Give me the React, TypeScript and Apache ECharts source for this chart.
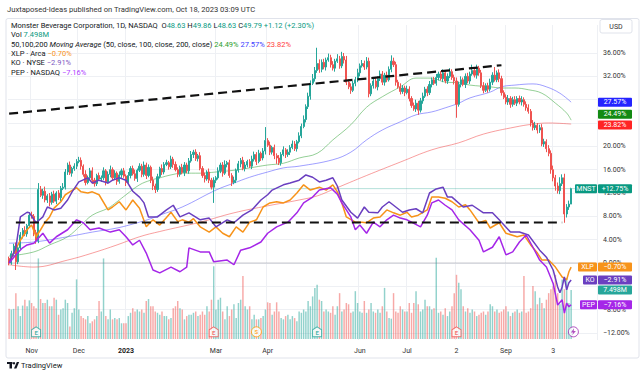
import React, { useEffect, useRef } from "react";
import * as echarts from "echarts";

const FONT = "Roboto, 'Noto Sans', sans-serif";
const N_CATS = 262;
const CATEGORIES = Array.from({ length: N_CATS }, (_, i) => String(i));

const TIME_LABELS: Record<number, string> = {
  10: "Nov", 31: "Dec", 52: "2023", 92: "Mar", 115: "Apr", 156: "Jun",
  177: "Jul", 199: "2", 221: "Sep", 242: "3",
};

// price-scale ticks hidden behind the value badges in the reference
const HIDDEN_TICKS = [28, 24, -4];

// MNST daily closes, % change vs first bar
const FIRST_OPEN = 0.8;
const CLOSES = [
  0.0, 1.6, 2.9, 0.2, 2.6, 4.8, 5.6, 5.0, 6.4, 8.2,
  8.0, 5.2, 3.8, 12.6, 11.6, 12.3, 10.8, 11.5, 10.4, 11.8,
  10.6, 12.0, 11.2, 12.8, 13.0, 15.6, 16.8, 15.4, 16.2, 16.6,
  17.4, 17.6, 16.6, 15.2, 13.8, 14.6, 15.8, 14.2, 13.6, 15.0,
  14.4, 14.6, 15.8, 13.9, 15.2, 16.0, 14.6, 15.4, 14.0, 15.1,
  15.8, 14.9, 13.8, 15.0, 16.2, 15.3, 14.5, 15.9, 16.6, 15.2,
  16.8, 15.0, 16.4, 14.2, 13.2, 12.6, 14.8, 16.2, 15.6, 16.9,
  17.2, 16.5, 17.8, 16.9, 16.0, 15.2, 16.4, 15.5, 16.8, 15.8,
  17.5, 18.6, 19.0, 17.9, 18.4, 16.2, 15.0, 14.4, 15.6, 14.2,
  13.0, 14.2, 14.6, 15.8, 16.8, 15.4, 16.9, 17.2, 15.0, 13.8,
  14.2, 15.9, 17.0, 17.6, 16.2, 16.8, 17.4, 16.6, 17.8, 18.6,
  17.4, 18.8, 18.0, 19.2, 21.0, 20.2, 19.0, 19.8, 18.4, 18.0,
  17.2, 18.6, 19.4, 18.6, 19.0, 19.8, 20.4, 19.6, 20.8, 21.8,
  23.4, 24.6, 26.8, 28.6, 30.8, 31.6, 33.0, 34.2, 33.2, 34.4,
  33.6, 34.8, 35.2, 34.0, 33.4, 34.6, 35.0, 33.8, 35.4, 34.8,
  31.0, 30.2, 29.6, 30.8, 31.4, 32.6, 33.8, 34.2, 33.6, 34.6,
  29.0, 30.4, 31.2, 30.2, 31.6, 32.4, 31.0, 32.2, 31.4, 33.2,
  34.6, 34.0, 31.0, 30.2, 29.4, 30.0, 29.2, 29.8, 28.2, 27.0,
  26.4, 27.4, 26.2, 27.8, 28.6, 29.8, 29.2, 30.6, 31.4, 30.8,
  31.8, 32.4, 31.6, 32.6, 31.2, 32.0, 32.8, 31.8, 31.2, 27.2,
  30.6, 31.4, 30.6, 32.0, 31.2, 32.4, 33.0, 32.2, 33.4, 32.6,
  30.4, 29.6, 30.4, 29.8, 31.0, 32.2, 31.4, 32.6, 31.6, 29.2,
  28.4, 27.6, 28.2, 27.2, 28.0, 27.4, 28.2, 27.6, 28.0, 27.2,
  26.6, 26.0, 24.0, 23.2, 23.6, 22.8, 23.2, 20.4, 20.8, 19.6,
  18.8, 16.0, 14.6, 13.2, 12.4, 13.6, 14.6, 8.4, 9.6, 10.1, 12.75,
];

const WICK_UP = [
  0.3, 0.5, 0.4, 0.6, 0.3, 0.5, 0.4, 0.7, 0.3, 0.5,
  0.6, 0.4, 0.5, 1.1, 0.6, 0.4, 0.8, 0.3, 0.5, 0.4,
  0.6, 0.3, 0.5, 0.4, 0.7, 0.5, 0.4, 0.6, 0.3, 0.5,
  0.4, 0.6, 0.5, 0.3, 0.7, 0.4, 0.5, 0.6, 0.4, 0.3,
  0.5, 0.4, 0.6, 0.3, 0.5, 0.7, 0.4, 0.5, 0.3, 0.6,
  0.4, 0.5, 0.3, 0.6, 0.4, 0.5, 0.7, 0.3, 0.5, 0.4,
  0.6, 0.4, 0.5, 0.3, 0.6, 0.4, 0.5, 0.3, 0.7, 0.4,
  0.5, 0.3, 0.6, 0.4, 0.5, 0.4, 0.3, 0.6, 0.5, 0.4,
  0.5, 0.6, 0.4, 0.5, 0.3, 0.6, 0.4, 0.5, 0.3, 0.6,
  0.4, 0.5, 0.3, 0.6, 0.4, 0.5, 0.7, 0.3, 0.5, 0.4,
  0.6, 0.3, 0.5, 0.4, 0.6, 0.5, 0.3, 0.4, 0.6, 0.5,
  0.4, 0.6, 0.3, 0.5, 2.3, 0.4, 0.6, 0.3, 0.5, 0.4,
  0.5, 0.4, 0.6, 0.3, 0.5, 0.4, 0.6, 0.5, 0.3, 0.6,
  0.5, 0.7, 0.4, 0.6, 0.5, 0.8, 0.6, 2.7, 0.7, 0.5,
  0.6, 0.4, 0.7, 0.5, 0.6, 0.4, 0.8, 0.5, 0.8, 0.6,
  0.7, 0.5, 0.6, 0.4, 0.5, 0.7, 0.4, 0.6, 0.5, 0.7,
  0.6, 0.4, 0.5, 0.7, 0.4, 0.6, 0.5, 0.4, 0.6, 0.5,
  1.0, 0.6, 0.5, 0.4, 0.6, 0.5, 0.4, 0.6, 0.5, 0.4,
  0.5, 0.6, 0.4, 0.5, 0.6, 0.4, 0.5, 0.6, 0.4, 0.5,
  0.6, 0.4, 0.5, 0.6, 0.4, 0.5, 0.6, 0.4, 0.5, 0.6,
  0.5, 0.6, 0.4, 0.5, 0.6, 0.4, 1.0, 0.5, 0.6, 0.4,
  0.5, 0.6, 0.4, 0.5, 0.6, 0.5, 1.4, 0.4, 0.6, 0.5,
  0.4, 0.5, 0.6, 0.4, 0.5, 0.6, 0.4, 0.5, 0.6, 0.4,
  0.5, 0.6, 0.4, 0.5, 0.6, 0.4, 0.5, 0.6, 0.5, 0.4,
  0.6, 0.5, 0.7, 0.5, 0.6, 1.1, 0.6, 0.7, 0.5, 0.6, 0.15,
];

const WICK_DN = [
  0.4, 0.3, 0.5, 1.4, 0.4, 0.3, 0.6, 0.4, 0.5, 0.3,
  0.4, 0.6, 0.5, 0.4, 0.3, 0.6, 0.4, 0.5, 0.7, 0.4,
  0.3, 0.5, 0.4, 0.6, 0.3, 0.4, 0.5, 0.3, 0.6, 0.4,
  0.5, 0.3, 0.6, 0.4, 0.5, 0.3, 0.4, 0.6, 0.5, 0.4,
  0.3, 0.5, 0.4, 0.6, 0.3, 0.5, 0.4, 0.3, 0.6, 0.4,
  0.5, 0.3, 0.6, 0.4, 0.5, 0.3, 0.4, 0.6, 0.3, 0.5,
  0.4, 0.6, 0.3, 0.5, 0.7, 0.6, 0.4, 0.3, 0.5, 0.4,
  0.3, 0.5, 0.4, 0.6, 0.3, 0.5, 0.4, 0.3, 0.6, 0.4,
  0.5, 0.3, 0.6, 0.4, 0.5, 0.3, 0.4, 0.6, 0.3, 0.5,
  0.4, 2.7, 0.5, 0.3, 0.4, 0.6, 0.3, 0.5, 0.4, 0.6,
  0.3, 0.5, 0.4, 0.6, 0.3, 0.5, 0.4, 0.3, 0.5, 0.4,
  0.6, 0.3, 0.5, 0.4, 0.6, 0.3, 0.5, 0.4, 0.6, 1.0,
  0.4, 0.5, 0.3, 0.6, 0.4, 0.5, 0.3, 0.4, 0.5, 0.3,
  0.4, 0.3, 0.5, 0.4, 0.6, 0.3, 0.5, 0.4, 0.6, 0.5,
  0.4, 0.6, 0.3, 0.5, 0.4, 0.6, 0.3, 0.5, 0.4, 0.6,
  0.5, 0.4, 0.6, 0.3, 0.5, 0.4, 0.6, 0.3, 0.5, 0.4,
  0.6, 0.4, 0.5, 0.3, 0.6, 0.4, 0.5, 0.6, 0.4, 0.3,
  0.5, 0.4, 0.6, 0.3, 0.5, 0.4, 0.6, 0.3, 0.5, 0.4,
  0.3, 0.5, 0.8, 0.4, 0.5, 0.3, 0.6, 0.4, 0.5, 0.3,
  0.4, 0.5, 0.3, 0.6, 0.4, 0.5, 0.3, 0.4, 0.6, 2.3,
  0.4, 0.5, 0.3, 0.6, 0.4, 0.5, 0.3, 0.4, 0.6, 0.5,
  0.4, 0.5, 0.3, 0.6, 0.4, 0.5, 0.3, 0.4, 0.6, 0.5,
  0.3, 0.4, 0.5, 0.6, 0.4, 0.3, 0.5, 0.4, 0.6, 0.4,
  0.5, 0.4, 0.6, 0.5, 0.4, 0.6, 0.5, 0.4, 0.5, 0.6,
  0.5, 0.7, 0.6, 0.8, 0.5, 0.6, 0.4, 1.5, 0.6, 0.5, 0.0,
];

// volume, millions of shares
const VOLUMES = [
  4.6, 4.5, 4.6, 7.0, 5.0, 3.5, 5.1, 6.0, 5.0, 5.9,
  5.5, 5.0, 4.7, 12.3, 6.1, 5.5, 5.5, 6.0, 5.0, 5.0,
  6.3, 6.0, 3.7, 4.5, 4.7, 6.0, 5.5, 1.9, 4.0, 4.7,
  9.1, 4.5, 3.5, 3.2, 3.0, 3.5, 2.4, 2.7, 3.0, 3.5,
  5.8, 4.2, 12.3, 3.5, 3.0, 4.5, 3.0, 3.2, 3.0, 3.2,
  2.4, 2.4, 2.4, 3.5, 4.0, 4.7, 4.2, 4.5, 4.2, 4.5,
  4.0, 5.8, 6.1, 5.0, 5.0, 4.2, 4.0, 3.7, 4.2, 3.5,
  3.5, 3.0, 3.2, 4.7, 5.0, 5.8, 4.7, 4.5, 3.0, 3.5,
  3.7, 3.7, 4.0, 4.2, 3.5, 3.7, 4.2, 3.7, 5.0, 4.2,
  6.0, 11.1, 4.5, 6.0, 6.3, 4.2, 3.0, 5.0, 3.5, 4.5,
  5.3, 3.2, 5.5, 6.0, 9.6, 5.0, 4.5, 5.0, 3.0, 3.7,
  3.0, 3.0, 3.2, 3.5, 4.5, 5.6, 5.5, 3.7, 4.2, 5.6,
  4.2, 3.2, 3.0, 3.5, 3.7, 3.0, 3.5, 3.2, 2.7, 4.2,
  4.0, 4.5, 4.2, 5.8, 5.0, 6.5, 7.8, 8.3, 6.0, 5.8,
  4.2, 4.5, 4.2, 4.0, 5.0, 3.7, 5.0, 7.0, 4.2, 4.5,
  5.5, 5.3, 4.0, 4.2, 7.3, 5.5, 4.2, 4.0, 5.8, 4.0,
  4.5, 5.5, 4.2, 4.0, 4.5, 4.0, 5.0, 7.8, 4.2, 3.2,
  3.1, 7.0, 4.2, 4.0, 5.0, 4.5, 4.2, 4.2, 5.5, 4.0,
  5.5, 7.3, 5.3, 4.2, 4.5, 6.0, 5.0, 5.0, 4.5, 4.7,
  12.4, 4.0, 4.2, 3.7, 4.7, 3.5, 4.2, 5.0, 7.0, 9.8,
  8.6, 7.6, 5.0, 4.2, 4.7, 4.0, 4.5, 4.2, 3.5, 3.7,
  4.0, 4.2, 3.7, 4.2, 5.3, 5.0, 4.2, 4.5, 4.0, 4.2,
  4.5, 5.0, 4.2, 3.5, 4.0, 4.2, 4.5, 4.0, 4.2, 9.6,
  4.0, 4.2, 4.7, 8.1, 7.3, 5.3, 6.3, 5.5, 4.7, 6.0,
  7.0, 7.6, 8.1, 9.8, 7.0, 5.3, 9.1, 7.6, 9.3, 5.5, 7.498,
];

// moving averages [barIndex, %]
const MA50 = [
  [0, 1.2], [11, 1.9], [18, 3.1], [26, 4.5], [32, 6.5], [37, 8.2], [44, 9.4], [48, 10.5],
  [52, 11.7], [58, 13.4], [63, 14.2], [67, 14.6], [72, 15.1], [77, 15.4], [85, 15.4],
  [92, 15.6], [100, 15.9], [107, 16.3], [115, 16.8], [122, 17.1], [129, 18.0], [137, 18.8],
  [144, 21.1], [152, 23.7], [159, 26.7], [166, 28.5], [174, 30.2], [181, 31.7], [188, 31.7],
  [194, 31.0], [200, 30.9], [205, 30.5], [214, 30.2], [219, 30.0], [225, 30.0], [231, 29.7],
  [237, 29.1], [243, 27.4], [248, 25.7], [250, 24.49],
];
const MA100 = [
  [0, 3.4], [11, 3.6], [26, 4.5], [37, 5.3], [48, 6.0], [58, 7.0], [63, 7.6], [67, 8.2],
  [77, 9.6], [92, 12.5], [100, 13.7], [107, 14.7], [115, 15.6], [122, 16.3], [129, 16.6],
  [144, 17.7], [152, 19.0], [159, 21.1], [166, 22.8], [174, 24.2], [181, 25.4], [188, 25.9],
  [194, 26.6], [200, 27.4], [205, 28.3], [214, 29.3], [219, 30.2], [225, 30.5], [233, 30.7],
  [239, 30.2], [245, 29.1], [250, 27.57],
];
const MA200 = [
  [0, -0.3], [11, -0.7], [26, 0.5], [37, 1.7], [48, 3.1], [58, 4.5], [67, 5.4], [85, 7.0],
  [100, 8.6], [115, 9.8], [129, 10.8], [137, 11.5], [144, 12.6], [159, 15.0], [174, 17.3],
  [188, 19.4], [200, 20.6], [211, 22.1], [225, 23.3], [233, 23.8], [240, 24.0], [250, 23.82],
];

// comparison symbols [barIndex, %]
const XLP = [
  [0, 0], [2, 1.7], [5, 3.9], [8, 5.7], [10, 6.5], [12, 4.5], [14, 5.7], [16, 7.0], [18, 7.9],
  [20, 9.4], [23, 10.5], [25, 11.7], [27, 12.2], [30, 12.9], [32, 12.2], [35, 12.0], [37, 12.2],
  [40, 11.7], [44, 9.1], [46, 9.6], [49, 10.5], [52, 9.1], [55, 10.8], [58, 9.4], [61, 6.2],
  [64, 7.4], [67, 6.5], [70, 7.8], [72, 8.7], [75, 7.1], [77, 7.4], [80, 7.0], [82, 7.6], [85, 6.2],
  [89, 5.3], [92, 6.2], [95, 5.1], [98, 4.5], [101, 6.2], [104, 5.3], [107, 7.0], [110, 7.4],
  [113, 9.6], [116, 10.3], [119, 10.5], [122, 10.3], [125, 10.8], [128, 12.0], [131, 13.4],
  [134, 12.5], [138, 13.0], [141, 12.5], [144, 13.4], [146, 12.2], [148, 10.3], [150, 7.9],
  [154, 7.0], [157, 7.0], [159, 6.9], [162, 7.7], [165, 7.9], [168, 9.1], [171, 8.6], [174, 8.2],
  [177, 8.7], [179, 7.9], [182, 8.2], [186, 9.1], [188, 11.3], [191, 11.3], [194, 11.1],
  [197, 10.5], [200, 9.6], [203, 10.0], [205, 9.1], [209, 6.9], [212, 7.3], [214, 6.0], [218, 6.9],
  [221, 5.1], [226, 4.5], [229, 4.8], [232, 3.1], [235, 1.7], [237, 0.5], [240, 0.5], [243, -0.7],
  [246, -2.4], [248, -2.9], [249, -1.5], [250, -0.7],
];
const KO = [
  [0, 0], [3, 2.6], [5, 7.9], [8, 8.7], [9, 8.6], [12, 6.9], [15, 7.9], [17, 9.6], [20, 9.1],
  [23, 9.4], [26, 10.8], [28, 12.2], [31, 13.9], [35, 14.6], [37, 13.7], [40, 14.2], [44, 13.7],
  [46, 14.2], [49, 14.6], [52, 14.2], [55, 12.3], [58, 11.3], [60, 10.3], [62, 7.9], [66, 7.9],
  [70, 9.1], [73, 9.9], [76, 7.9], [80, 8.6], [85, 7.4], [89, 7.7], [92, 6.2], [97, 7.4],
  [100, 6.9], [104, 8.2], [108, 9.1], [112, 10.8], [115, 11.7], [117, 12.5], [122, 13.4],
  [125, 13.7], [129, 14.2], [132, 15.1], [135, 14.7], [138, 13.9], [141, 14.2], [144, 14.6],
  [146, 13.2], [148, 10.8], [152, 8.7], [155, 7.7], [158, 9.6], [160, 8.7], [164, 8.6],
  [166, 9.6], [169, 10.5], [172, 9.6], [175, 8.7], [178, 9.1], [181, 9.3], [184, 8.6],
  [187, 12.0], [190, 12.7], [193, 13.0], [195, 11.3], [197, 11.3], [202, 9.6], [206, 9.9],
  [211, 8.6], [215, 8.6], [218, 7.4], [223, 5.3], [227, 5.3], [231, 4.8], [236, 2.2], [239, 1.0],
  [242, -1.2], [244, -4.1], [245, -5.1], [246, -4.1], [247, -2.4], [248, -4.6], [249, -3.4],
  [250, -2.91],
];
const PEP = [
  [0, 0], [3, 1.4], [6, 2.6], [8, 3.1], [11, 3.4], [15, 5.1], [18, 3.4], [21, 4.5], [26, 5.7],
  [30, 7.4], [33, 6.9], [36, 5.7], [40, 6.0], [45, 5.3], [49, 5.7], [52, 4.5], [55, 3.1],
  [58, 3.9], [61, 1.7], [64, -1.2], [67, -1.7], [72, -0.7], [76, -1.5], [79, -0.7], [80, 2.6],
  [85, 1.9], [89, 1.9], [91, 0.2], [97, 0.5], [100, -0.3], [103, 2.2], [107, 2.6], [112, 3.6],
  [115, 5.1], [119, 6.2], [124, 7.0], [128, 8.6], [131, 10.3], [135, 11.3], [138, 12.5],
  [143, 12.9], [146, 11.8], [148, 10.3], [152, 7.9], [154, 5.7], [156, 6.5], [159, 5.1],
  [162, 7.0], [165, 6.2], [168, 7.4], [171, 8.2], [174, 7.7], [177, 7.4], [179, 7.0], [183, 6.2],
  [186, 8.2], [188, 10.3], [191, 10.8], [194, 9.9], [197, 9.1], [200, 7.4], [205, 5.7],
  [209, 3.9], [211, 1.9], [215, 2.7], [218, 4.5], [221, 1.4], [224, 1.9], [227, 3.6], [230, 4.8],
  [233, 2.7], [236, 0.5], [239, -0.7], [242, -3.5], [244, -7.2], [246, -6.3], [247, -8.6],
  [248, -6.9], [249, -7.5], [250, -7.16],
];

const TREND_UPPER = [[0, 25.6], [219, 33.9]];
const TREND_LOWER = [[3, 6.94], [246, 6.94]];

const LAST = { mnst: 12.75, ma50: 24.49, ma100: 27.57, ma200: 23.82, xlp: -0.7, ko: -2.91, pep: -7.16, vol: 7.498 };

// events near the time axis: [barIndex, kind]
const EVENTS: [number, string][] = [
  [12, "E+"], [91, "E-"], [110, "S"], [137, "E+"], [199, "E-"], [251, "L"],
];

const UP = "#26a69a";
const DOWN = "#ef5350";

function fmtPct(v: number) {
  return (v < 0 ? "\u2212" : "+") + Math.abs(v).toFixed(2) + "%";
}

function buildOption() {
  const candles = CLOSES.map((c, i) => {
    const o = i === 0 ? FIRST_OPEN : CLOSES[i - 1];
    return [o, c, Math.min(o, c) - WICK_DN[i], Math.max(o, c) + WICK_UP[i]];
  });
  const vols = VOLUMES.map((v, i) => {
    const o = i === 0 ? FIRST_OPEN : CLOSES[i - 1];
    const up = CLOSES[i] >= o;
    return { value: v, itemStyle: { color: up ? "rgba(38,166,154,0.5)" : "rgba(239,83,80,0.5)" } };
  });
  const isLabel = (i: number) => TIME_LABELS[i] !== undefined;

  const lineS = (data: number[][], color: string, width: number, smooth: any, z = 3) => ({
    type: "line", xAxisIndex: 0, yAxisIndex: 0, data, symbol: "none", smooth, silent: true, z,
    lineStyle: { color, width }, emphasis: { disabled: true },
  });

  const evData = EVENTS.map(([i, k]) => {
    const color = k === "E+" ? UP : k === "E-" ? DOWN : k === "S" ? "#ff9800" : "#9c27b0";
    const isE = k === "E+" || k === "E-";
    return {
      value: [i, -11.8],
      symbol: isE ? "path://M5,0 L10,3.5 L10,12 L0,12 L0,3.5 Z" : "circle",
      symbolSize: isE ? [9, 10] : 10,
      itemStyle: { color: "#fff", borderColor: color, borderWidth: 1 },
      label: {
        show: k !== "L", formatter: isE ? "E" : "S", color, fontSize: 6, fontWeight: "bold",
        position: "inside", offset: [0, isE ? 1 : 0], fontFamily: FONT,
      },
    };
  });
  const boltData = EVENTS.filter(([, k]) => k === "L").map(([i]) => ({ value: [i, -11.8] }));

  return {
    animation: false,
    textStyle: { fontFamily: FONT },
    grid: [
      { left: 8, right: 43, top: 25, height: 315 },
      { left: 8, right: 43, top: 53, height: 280 },
      { left: 8, right: 43, top: 208, height: 131 },
    ],
    xAxis: [
      {
        type: "category", gridIndex: 0, data: CATEGORIES, boundaryGap: true,
        axisLine: { show: false }, axisTick: { show: false },
        axisLabel: {
          interval: (i: number) => isLabel(i),
          formatter: (_v: string, i: number) => (i === 52 ? "{b|2023}" : TIME_LABELS[i] || ""),
          fontSize: 7, color: "#333", margin: 7, fontFamily: FONT,
          rich: { b: { fontWeight: "bold", fontSize: 7, color: "#222", fontFamily: FONT } },
        },
        splitLine: { show: true, interval: (i: number) => isLabel(i), lineStyle: { color: "#eef0f4", width: 1 } },
      },
      { type: "value", gridIndex: 1, show: false, min: 0, max: 1 },
      { type: "category", gridIndex: 2, data: CATEGORIES, show: false, boundaryGap: true },
    ],
    yAxis: [
      { type: "value", gridIndex: 0, min: -13.2, max: 40.8, show: false },
      {
        type: "value", gridIndex: 1, position: "right", min: -12, max: 36, interval: 4,
        axisLine: { show: false }, axisTick: { show: false },
        axisLabel: {
          formatter: (v: number) =>
            HIDDEN_TICKS.indexOf(v) >= 0 ? "" : (v < 0 ? "\u2212" : "") + Math.abs(v).toFixed(2) + "%",
          fontSize: 7, color: "#333", margin: 6, fontFamily: FONT,
        },
        splitLine: { lineStyle: { color: "#eef0f4", width: 1 } },
      },
      { type: "value", gridIndex: 2, min: 0, max: 20, show: false },
    ],
    series: [
      {
        type: "bar", xAxisIndex: 2, yAxisIndex: 2, data: vols, barWidth: "65%", silent: true, z: 1,
      },
      lineS([[0, 0], [261, 0]], "rgba(120,123,134,0.4)", 1, false, 2),
      lineS([[0, LAST.mnst], [261, LAST.mnst]], "rgba(8,153,129,0.3)", 1, false, 2),
      lineS(MA200, "rgba(242,80,80,0.55)", 1, 0.4),
      lineS(MA100, "rgba(80,80,255,0.55)", 1, 0.4),
      lineS(MA50, "rgba(76,175,80,0.6)", 1, 0.4),
      {
        type: "candlestick", xAxisIndex: 0, yAxisIndex: 0, data: candles, barWidth: "72%", silent: true, z: 4,
        itemStyle: { color: UP, color0: DOWN, borderColor: UP, borderColor0: DOWN, borderWidth: 1 },
      },
      lineS(XLP, "#f7931a", 1.5, false, 5),
      lineS(KO, "#6a3fc0", 1.5, false, 5),
      lineS(PEP, "#a526e8", 1.5, false, 5),
      {
        type: "line", xAxisIndex: 0, yAxisIndex: 0, data: TREND_UPPER, symbol: "none", silent: true, z: 6,
        lineStyle: { color: "#111", width: 2.2, type: [9, 5] },
      },
      {
        type: "line", xAxisIndex: 0, yAxisIndex: 0, data: TREND_LOWER, symbol: "none", silent: true, z: 6,
        lineStyle: { color: "#111", width: 2.2, type: [9, 5] },
      },
      { type: "scatter", xAxisIndex: 0, yAxisIndex: 0, data: evData, silent: true, z: 7 },
      {
        type: "scatter", xAxisIndex: 0, yAxisIndex: 0, data: boltData, silent: true, z: 8,
        symbol: "path://M6,0 L1,7 L4.5,7 L3,12 L9,4.5 L5.5,4.5 Z", symbolSize: [5, 7],
        itemStyle: { color: "#9c27b0" },
      },
    ],
  };
}

function badge(y: number, x0: number, w: number, bg: string, text: string) {
  return {
    type: "group", z: 100,
    children: [
      { type: "rect", z: 100, shape: { x: x0, y: y - 4.5, width: w, height: 9, r: 1 }, style: { fill: bg } },
      {
        type: "text", z: 101,
        style: {
          x: x0 + w / 2, y: y + 0.3, text, fill: "#fff", font: `7px ${FONT}`,
          textAlign: "center", textVerticalAlign: "middle",
        },
      },
    ],
  };
}

const LEGEND_TEXT = [
  "{t|Monster Beverage Corporation, 1D, NASDAQ}  {t|O}{g|48.63} {t|H}{g|49.86} {t|L}{g|48.63} {t|C}{g|49.79} {g|+1.12 (+2.30%)}",
  "{t|Vol} {g|7.498M}",
  "{t|50,100,200 }{i|Moving Average}{t| (50, close, 100, close, 200, close)} {m1|24.49%} {m2|27.57%} {m3|23.82%}",
  "{t|XLP \u00b7 Arca} {o|\u22120.70%}",
  "{t|KO \u00b7 NYSE} {k|\u22122.91%}",
  "{t|PEP \u00b7 NASDAQ} {p|\u22127.16%}",
].join("\n");

export default function App() {
  const ref = useRef<HTMLDivElement>(null);
  useEffect(() => {
    const chart = echarts.init(ref.current!, null, { renderer: "svg" });
    chart.setOption(buildOption() as any);
    const py = (v: number) => chart.convertToPixel({ yAxisIndex: 0 } as any, v) as unknown as number;
    const pv = (v: number) => chart.convertToPixel({ yAxisIndex: 2 } as any, v) as unknown as number;
    const LH = 9.4;
    const FS = 7.5;
    const rs = (fill: string, extra: any = {}) => ({ fill, fontSize: FS, fontFamily: FONT, lineHeight: LH, ...extra });

    const graphics: any[] = [
      {
        type: "text", z: 100,
        style: {
          x: 7, y: 9, text: "Juxtaposed-Ideas published on TradingView.com, Oct 18, 2023 03:09 UTC",
          fill: "#333", font: `7.6px ${FONT}`, textVerticalAlign: "middle",
        },
      },
      {
        type: "rect", z: 99, shape: { x: 6, y: 18.5, width: 633, height: 339.5, r: 2 },
        style: { fill: "none", stroke: "#e0e3eb", lineWidth: 1 },
      },
      {
        type: "text", z: 100,
        style: {
          x: 11, y: 20.5, text: LEGEND_TEXT, font: `${FS}px ${FONT}`, fill: "#131722", lineHeight: LH,
          textVerticalAlign: "top",
          rich: {
            t: rs("#131722"), g: rs("#089981"), i: rs("#131722", { fontStyle: "italic" }),
            m1: rs("#2e9e2e"), m2: rs("#4040ff"), m3: rs("#ff3b3b"),
            o: rs("#f7931a"), k: rs("#7e57c2"), p: rs("#b040ff"),
          },
        },
      },
      {
        type: "rect", z: 100, shape: { x: 600, y: 19.5, width: 32, height: 13.5, r: 2 },
        style: { fill: "#fff", stroke: "#e0e3eb", lineWidth: 1 },
      },
      {
        type: "text", z: 101,
        style: { x: 616, y: 26.5, text: "USD", fill: "#333", font: `7px ${FONT}`, textAlign: "center", textVerticalAlign: "middle" },
      },
      // TradingView logo
      { type: "rect", z: 100, shape: { x: 7, y: 362, width: 5.5, height: 2 }, style: { fill: "#131722" } },
      { type: "rect", z: 100, shape: { x: 9.5, y: 362, width: 2.5, height: 6.5 }, style: { fill: "#131722" } },
      { type: "circle", z: 100, shape: { cx: 14, cy: 363.2, r: 1.2 }, style: { fill: "#131722" } },
      { type: "polygon", z: 100, shape: { points: [[14, 368.5], [16.8, 362], [19.2, 362], [16.4, 368.5]] }, style: { fill: "#131722" } },
      {
        type: "text", z: 100,
        style: { x: 21, y: 365.5, text: "TradingView", fill: "#131722", font: `7.5px ${FONT}`, textVerticalAlign: "middle" },
      },
      // value badges
      badge(py(LAST.ma100), 598, 34, "#2424ff", LAST.ma100.toFixed(2) + "%"),
      badge(py(LAST.ma50) - 6, 598, 34, "#138a13", LAST.ma50.toFixed(2) + "%"),
      badge(py(LAST.ma200) + 1, 598, 34, "#ff2424", LAST.ma200.toFixed(2) + "%"),
      badge(py(LAST.mnst), 575, 22, "#089981", "MNST"),
      badge(py(LAST.mnst), 598, 34, "#089981", fmtPct(LAST.mnst)),
      badge(py(LAST.xlp), 578, 19, "#f7931a", "XLP"),
      badge(py(LAST.xlp), 598, 34, "#f7931a", fmtPct(LAST.xlp)),
      badge(py(LAST.ko), 583, 14, "#6a3fc0", "KO"),
      badge(py(LAST.ko), 598, 34, "#6a3fc0", fmtPct(LAST.ko)),
      badge(pv(LAST.vol), 598, 34, "#26a69a", LAST.vol.toFixed(3) + "M"),
      badge(py(LAST.pep), 580, 17, "#a526e8", "PEP"),
      badge(py(LAST.pep), 598, 34, "#a526e8", fmtPct(LAST.pep)),
    ];
    chart.setOption({ graphic: graphics } as any);
    return () => chart.dispose();
  }, []);
  return (
    <div
      ref={ref}
      style={{ position: "fixed", left: 0, top: 0, width: 640, height: 376, background: "#fff" }}
    />
  );
}
